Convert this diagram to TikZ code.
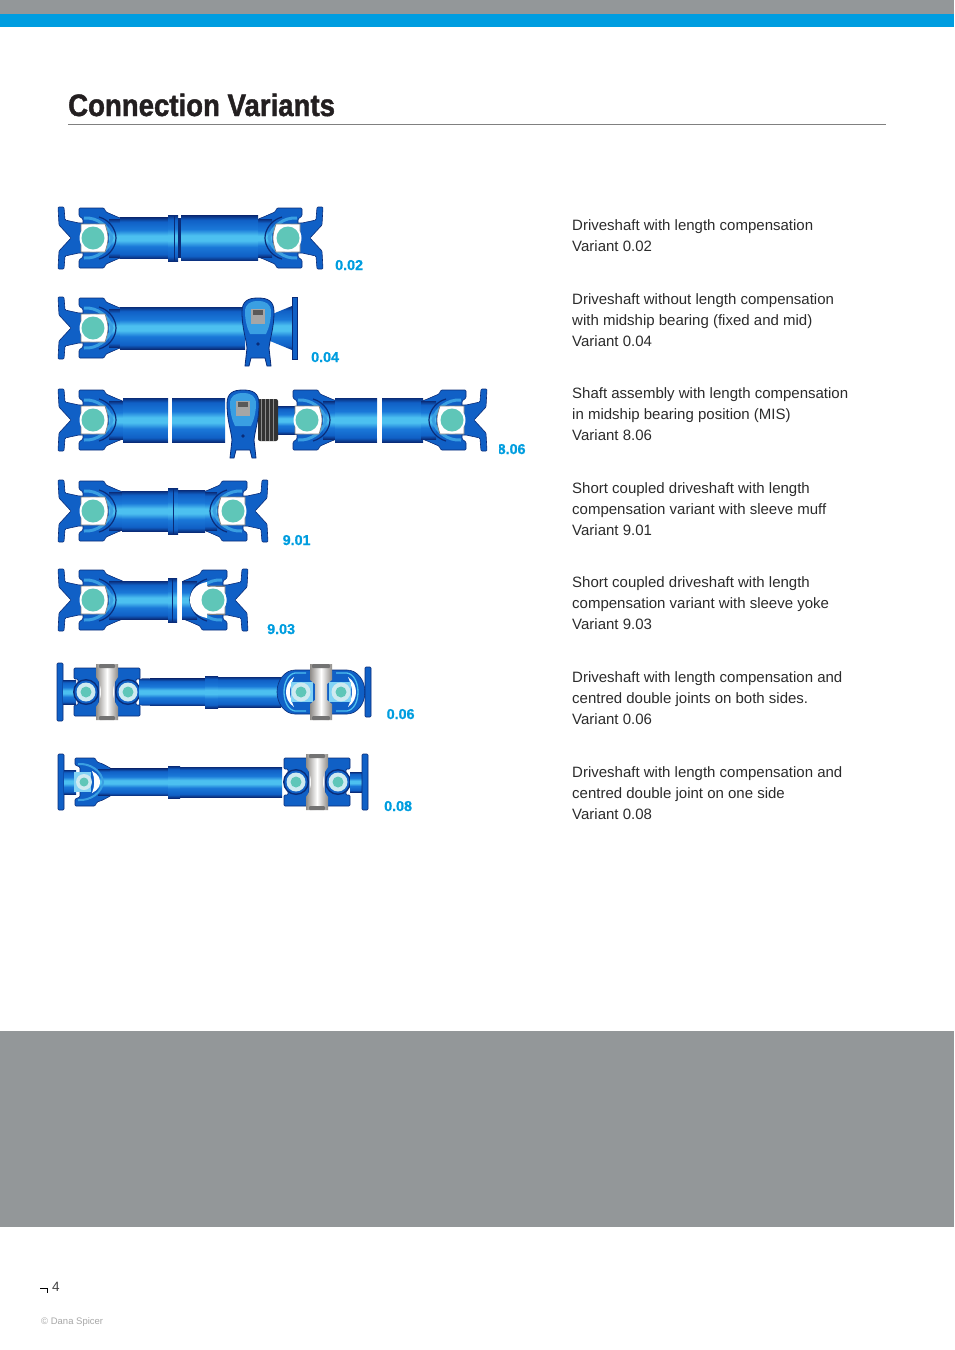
\documentclass[tikz,border=0pt]{standalone}
\usepackage{fontspec}
\setmainfont{Liberation Sans}
\newfontfamily\titlefont{Liberation Sans}[FakeStretch=0.89,FakeBold=1.4]
\newfontfamily\labelfont{Liberation Sans}[FakeBold=0.8]
\usetikzlibrary{positioning}

\definecolor{shaftnavy}{HTML}{0A2C78}
\definecolor{shaftblue}{HTML}{1060C6}
\definecolor{shaftmid}{HTML}{1A78D8}
\definecolor{shaftcyan}{HTML}{4CC0F0}
\definecolor{forklight}{HTML}{3A9FE2}
\definecolor{crossteal}{HTML}{5FC6B8}
\definecolor{crosspale}{HTML}{CFEAF0}
\definecolor{bandgrey}{HTML}{8F8C88}
\definecolor{panelgrey}{HTML}{939799}
\definecolor{barblue}{HTML}{009DE0}
\definecolor{labelblue}{HTML}{009DDF}
\definecolor{titleblack}{HTML}{231F20}
\definecolor{textgrey}{HTML}{2B2B2B}

\pgfdeclareverticalshading{tubeshade}{100bp}{color(0bp)=(shaftnavy); color(25bp)=(shaftnavy); color(30bp)=(shaftblue); color(40bp)=(shaftmid); color(47bp)=(shaftcyan); color(53bp)=(shaftcyan); color(60bp)=(shaftmid); color(70bp)=(shaftblue); color(75bp)=(shaftnavy); color(100bp)=(shaftnavy)}

\tikzset{
  tube/.style={shading=tubeshade},
  yokefill/.style={fill=shaftblue, draw=shaftnavy, line width=0.6},
  desc/.style={anchor=north west, inner sep=0, align=left, text=textgrey, font=\fontsize{15}{21}\selectfont},
  variant/.style={anchor=base west, inner sep=0, text=labelblue, font=\labelfont\fontsize{14.3}{16}\selectfont\bfseries},
  % one flange with its notch
  flange/.pic={
    \path[yokefill, rounded corners=1] (-35,-31) -- (-29,-31) -- (-28,-18) -- (-14,-15) -- (-8,-15) -- (-8,15) -- (-14,15) -- (-28,18) -- (-29,31) -- (-35,31) -- (-34,13) -- (-22,0) -- (-34,-13) -- cycle;
  },
  % fork with cross
  fork/.pic={
    \path[yokefill, rounded corners=1] (-14,-30) -- (11,-30) -- (13,-26) .. controls (18,-24) and (24,-21) .. (30,-19) -- (30,19) .. controls (24,21) and (18,24) .. (13,26) -- (11,30) -- (-14,30) -- (-14,22) -- (-10,19) -- (-10,-19) -- (-14,-22) -- cycle;
    \shade[tube] (16,-19) rectangle (31,19);
    \draw[shaftnavy, line width=1.2] (6,-21) .. controls (17,-18) and (23,-8) .. (23,0) .. controls (23,8) and (17,18) .. (6,21);
    \draw[forklight, line width=3] (-9,-20) .. controls (4,-21) and (16,-12) .. (19,0) .. controls (16,12) and (4,21) .. (-9,20);
    \path[fill=white, draw=gray, line width=0.7] (-12,-14) -- (12,-14) .. controls (14,-8) and (15,-4) .. (15,0) .. controls (15,4) and (14,8) .. (12,14) -- (-12,14) -- cycle;
    \fill[white] (0,0) circle (13.5);
    \fill[crossteal] (0,0) circle (11.5);
  },
  ujoint/.pic={
    \pic[transform shape] {flange};
    \pic[transform shape] {fork};
  },
  % fork opened with a white crescent
  ujointopen/.pic={
    \pic[transform shape] {flange};
    \pic[transform shape] {fork};
    \fill[white] (6,-18) .. controls (18,-16) and (23,-8) .. (23,0) .. controls (23,8) and (18,16) .. (6,18) -- cycle;
    \draw[gray, line width=0.5] (-12,-14) -- (5,-14) (-12,14) -- (5,14);
    \fill[white] (0,0) circle (13.5);
    \fill[crossteal] (0,0) circle (11.5);
  },
  % midship bearing
  bearing/.pic={
    \path[fill=shaftblue, draw=shaftnavy, line width=0.8] (-16,-16) .. controls (-16,-27) and (-10,-30) .. (0,-30) .. controls (10,-30) and (16,-27) .. (16,-16) .. controls (16,0) and (12,10) .. (11,20) -- (13,38) -- (9,38) -- (7,30) -- (-7,30) -- (-9,38) -- (-13,38) -- (-11,20) .. controls (-12,10) and (-16,0) .. (-16,-16) -- cycle;
    \fill[forklight] (-13,-16) .. controls (-13,-24) and (-8,-27) .. (0,-27) .. controls (8,-27) and (13,-24) .. (13,-16) .. controls (13,-8) and (11,0) .. (8,6) -- (-8,6) .. controls (-11,0) and (-13,-8) .. (-13,-16) -- cycle;
    \fill[gray!70] (-7,-19) rectangle (7,-4);
    \fill[black!65] (-5,-18) rectangle (5,-13);
    \fill[shaftnavy] (0,16) circle (1.8);
  },
  % double joint with grey band
  dbljoint/.pic={
    \foreach \sx in {-1,1}{
      \begin{scope}[xscale=\sx]
        \path[yokefill, rounded corners=1] (8,-24) -- (33,-24) -- (33,-13) -- (29,-13) -- (29,13) -- (33,13) -- (33,24) -- (8,24) -- cycle;
        \fill[shaftnavy] (21,0) circle (13);
      \end{scope}
    }
    \shade[left color=bandgrey, right color=bandgrey, middle color=white] (-11,-28) -- (11,-28) -- (11,-15) .. controls (7,-10) and (6,-4) .. (6,0) .. controls (6,4) and (7,10) .. (11,15) -- (11,28) -- (-11,28) -- (-11,15) .. controls (-7,10) and (-6,4) .. (-6,0) .. controls (-6,-4) and (-7,-10) .. (-11,-15) -- cycle;
    \fill[black!55, rounded corners=1] (-8,-28) rectangle (8,-24);
    \fill[black!55, rounded corners=1] (-8,24) rectangle (8,28);
    \foreach \sx in {-21,21}{
      \fill[shaftblue] (\sx,0) circle (11.5);
      \fill[crosspale] (\sx,0) circle (9.5);
      \fill[crossteal] (\sx,0) circle (5.5);
    }
  },
  % double joint closed by arcs
  dblopen/.pic={
    \path[yokefill] (-44,0) .. controls (-44,-12) and (-36,-22) .. (-26,-22) -- (26,-22) .. controls (36,-22) and (44,-12) .. (44,0) .. controls (44,12) and (36,22) .. (26,22) -- (-26,22) .. controls (-36,22) and (-44,12) .. (-44,0) -- cycle;
    \foreach \sx in {-1,1}{
      \begin{scope}[xscale=\sx]
        \draw[shaftcyan, line width=1.3] (15,-19) -- (26,-19) .. controls (33,-18) and (37,-9) .. (37,0) .. controls (37,9) and (33,18) .. (26,19) -- (15,19);
        \fill[white] (27,-15) .. controls (33,-11) and (35,-5) .. (35,0) .. controls (35,5) and (33,11) .. (27,15) .. controls (30,8) and (31,4) .. (31,0) .. controls (31,-4) and (30,-8) .. (27,-15) -- cycle;
        \fill[shaftcyan!70] (8,-10) rectangle (30,10);
      \end{scope}
    }
    \shade[left color=bandgrey, right color=bandgrey, middle color=white] (-11,-28) -- (11,-28) -- (11,-12) -- (6,-8) -- (6,8) -- (11,12) -- (11,28) -- (-11,28) -- (-11,12) -- (-6,8) -- (-6,-8) -- (-11,-12) -- cycle;
    \fill[black!55, rounded corners=1] (-9,-28) rectangle (9,-24);
    \fill[black!55, rounded corners=1] (-9,24) rectangle (9,28);
    \foreach \sx in {-20,20}{
      \fill[crosspale] (\sx,0) circle (9.5);
      \fill[crossteal] (\sx,0) circle (5.5);
    }
  },
  % small fork of the single joint in 0.08
  smallfork/.pic={
    \path[yokefill, rounded corners=1] (-26,-28) rectangle (-20,28);
    \shade[tube] (-20,-12) rectangle (-8,12);
    \path[yokefill, rounded corners=1] (-9,-24) -- (11,-24) -- (13,-20) .. controls (20,-18) and (24,-15) .. (28,-13) -- (28,13) .. controls (24,15) and (20,18) .. (13,20) -- (11,24) -- (-9,24) -- (-9,17) -- (-4,15) -- (-4,-15) -- (-9,-17) -- cycle;
    \shade[tube] (14,-13) rectangle (29,13);
    \draw[forklight, line width=2] (-6,-18) .. controls (6,-19) and (18,-11) .. (19,0) .. controls (18,11) and (6,19) .. (-6,18);
    \fill[white] (8,-11) .. controls (14,-8) and (16,-4) .. (16,0) .. controls (16,4) and (14,8) .. (8,11) .. controls (11,4) and (11,-4) .. (8,-11) -- cycle;
    \fill[shaftcyan!70] (-10,-10) rectangle (7,10);
    \fill[crosspale] (0,0) circle (8);
    \fill[crossteal] (0,0) circle (4.5);
  }
}

\begin{document}
\begin{tikzpicture}[x=1pt, y=-1pt]
  \useasboundingbox (0,0) rectangle (954,1350);

  % Page furniture
  \fill[panelgrey] (0,0) rectangle (954,14);
  \fill[barblue] (0,14) rectangle (954,27);
  \fill[panelgrey] (0,1031) rectangle (954,1227);
  \node[anchor=base west, inner sep=0, text=titleblack, font=\titlefont\fontsize{31}{34}\selectfont\bfseries] (title) at (68,116) {Connection Variants};
  \draw[gray, line width=0.8] (68,124.5) -- (886,124.5);

  % Variant 0.02
  \begin{scope}[shift={(0,238)}]
    \pic at (93,0) {ujoint};
    \pic[xscale=-1] at (288,0) {ujoint};
    \shade[tube] (120,-20.5) rectangle (168,20.5);
    \shade[tube] (168,-23) rectangle (178,23);
    \draw[shaftnavy, line width=0.8] (174,-23) -- (174,23);
    \shade[tube] (181,-22.5) rectangle (258,22.5);
    \fill[shaftnavy] (178,-20) rectangle (181,20);
  \end{scope}

  % Variant 0.04
  \begin{scope}[shift={(0,328)}]
    \pic at (93,0) {ujoint};
    \shade[tube] (120,-21) rectangle (245,21);
    \shade[tube] (270,-13) -- (292,-22) -- (292,22) -- (270,13) -- cycle;
    \path[yokefill] (292,-31) rectangle (297,31);
    \pic at (258,0) {bearing};
  \end{scope}

  % Variant 8.06
  \begin{scope}[shift={(0,420)}]
    \pic at (93,0) {ujoint};
    \shade[tube] (123,-22) rectangle (168,22);
    \shade[tube] (172,-22) rectangle (225,22);
    \draw[white, line width=2.5] (170,-24) .. controls (172,-8) and (168,8) .. (170,24);
    \shade[tube] (276,-14) rectangle (300,14);
    \fill[black!80, rounded corners=2] (258,-21) rectangle (278,21);
    \foreach \xb in {261,265,269,273}{
      \draw[black!45, line width=0.6] (\xb,-21) -- (\xb,21);
    }
    \pic at (307,0) {fork};
    \shade[tube] (335,-22) rectangle (377,22);
    \shade[tube] (382,-22) rectangle (423,22);
    \draw[white, line width=2.5] (379,-24) .. controls (381,-8) and (377,8) .. (379,24);
    \pic[xscale=-1] at (452,0) {ujoint};
    \pic at (243,0) {bearing};
  \end{scope}

  % Variant 9.01
  \begin{scope}[shift={(0,511)}]
    \pic at (93,0) {ujoint};
    \pic[xscale=-1] at (233,0) {ujoint};
    \shade[tube] (122,-20) rectangle (168,20);
    \shade[tube] (168,-23) rectangle (178,23);
    \draw[shaftnavy, line width=0.8] (173,-23) -- (173,23);
    \shade[tube] (178,-21) rectangle (205,21);
  \end{scope}

  % Variant 9.03
  \begin{scope}[shift={(0,600)}]
    \pic at (93,0) {ujoint};
    \pic[xscale=-1] at (213,0) {ujointopen};
    \shade[tube] (122,-19) rectangle (168,19);
    \shade[tube] (168,-22) rectangle (177,22);
    \draw[shaftnavy, line width=0.8] (172,-22) -- (172,22);
  \end{scope}

  % Variant 0.06
  \begin{scope}[shift={(0,692)}]
    \path[yokefill, rounded corners=1] (57,-29) rectangle (63,29);
    \shade[tube] (63,-12) rectangle (76,12);
    \pic at (107,0) {dbljoint};
    \shade[tube] (139,-13) .. controls (143,-14) and (146,-13.5) .. (150,-13.5) -- (150,13.5) .. controls (146,13.5) and (143,14) .. (139,13) -- cycle;
    \shade[tube] (150,-13.5) rectangle (205,13.5);
    \shade[tube] (205,-16) rectangle (218,16);
    \shade[tube] (218,-15) rectangle (281,15);
    \pic at (321,0) {dblopen};
    \path[yokefill, rounded corners=1] (365,-25) rectangle (371,25);
  \end{scope}

  % Variant 0.08
  \begin{scope}[shift={(0,782)}]
    \pic at (84,0) {smallfork};
    \shade[tube] (110,-13.5) rectangle (168,13.5);
    \shade[tube] (168,-16) rectangle (180,16);
    \shade[tube] (180,-15) rectangle (282,15);
    \pic at (317,0) {dbljoint};
    \shade[tube] (350,-10) rectangle (362,10);
    \path[yokefill, rounded corners=1] (362,-28) rectangle (368,28);
  \end{scope}

  % Variant labels
  \node[variant] (v002) at (335,270) {0.02};
  \node[variant] (v004) at (311,362) {0.04};
  \node[variant] (v806) at (497.5,454) {8.06};
  \fill[white] (490,440) rectangle (499,458);
  \node[variant] (v901) at (282.5,545) {9.01};
  \node[variant] (v903) at (267,634) {9.03};
  \node[variant] (v006) at (386.5,719) {0.06};
  \node[variant] (v008) at (384,811) {0.08};

  % Descriptions
  \node[desc] (d002) at (572,219.2) {Driveshaft with length compensation\\Variant 0.02};
  \node[desc] (d004) at (572,293.2) {Driveshaft without length compensation\\with midship bearing (fixed and mid)\\Variant 0.04};
  \node[desc] (d806) at (572,387.2) {Shaft assembly with length compensation\\in midship bearing position (MIS)\\Variant 8.06};
  \node[desc] (d901) at (572,482.2) {Short coupled driveshaft with length\\compensation variant with sleeve muff\\Variant 9.01};
  \node[desc] (d903) at (572,576.2) {Short coupled driveshaft with length\\compensation variant with sleeve yoke\\Variant 9.03};
  \node[desc] (d006) at (572,671.2) {Driveshaft with length compensation and\\centred double joints on both sides.\\Variant 0.06};
  \node[desc] (d008) at (572,766.2) {Driveshaft with length compensation and\\centred double joint on one side\\Variant 0.08};

  % Footer
  \coordinate (tickstart) at (40,1288);
  \coordinate (tickcorner) at (47,1288);
  \coordinate (tickend) at (47,1292.5);
  \draw[black, line width=0.7] (tickstart) -- (tickcorner) -- (tickend);
  \node[anchor=base west, inner sep=0, text=black!75, font=\fontsize{13.5}{15}\selectfont] (pagenum) at (52,1291.5) {4};
  \node[anchor=base west, inner sep=0, text=black!35, font=\fontsize{9.5}{11}\selectfont] (credit) at (41,1324.5) {© Dana Spicer};
\end{tikzpicture}
\end{document}
